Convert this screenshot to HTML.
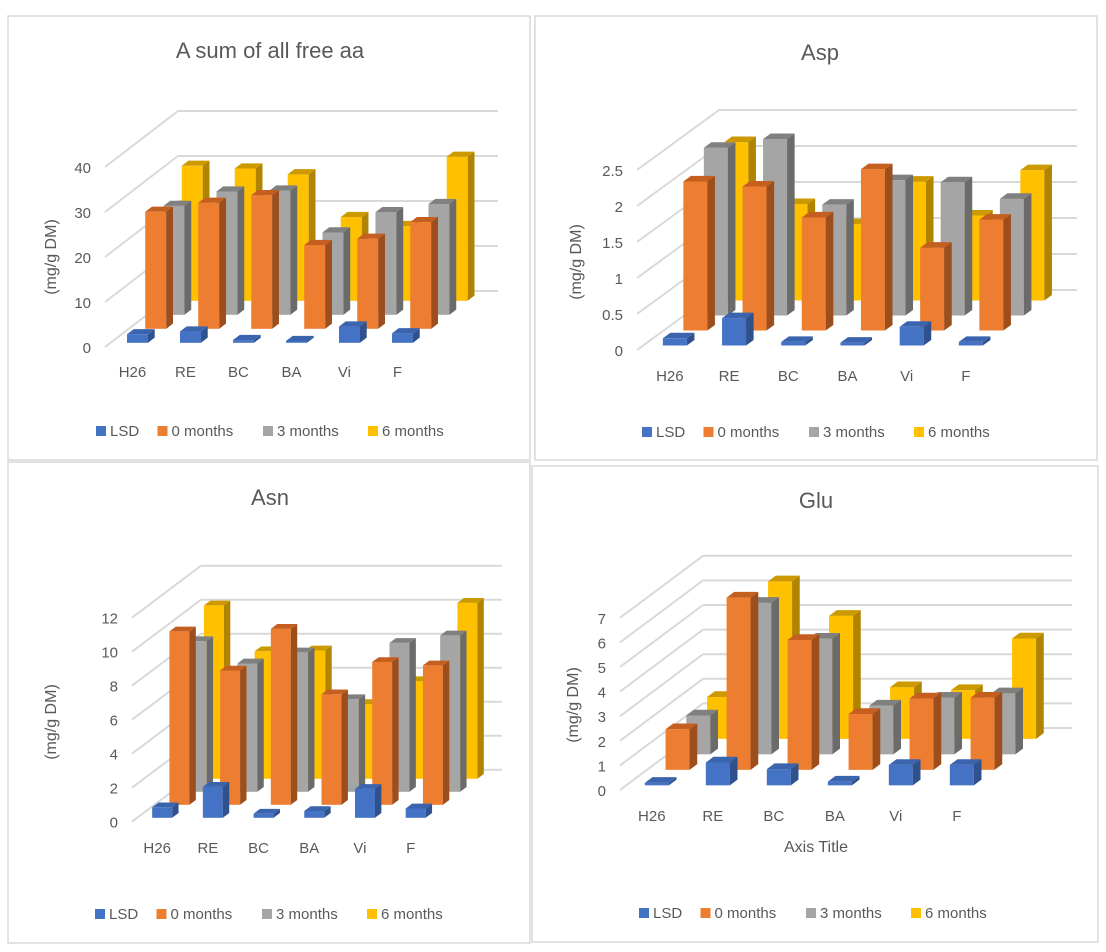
<!DOCTYPE html>
<html><head><meta charset="utf-8">
<style>
html,body{margin:0;padding:0;background:#fff;}
svg{display:block;font-family:"Liberation Sans",Arial,sans-serif;}
</style></head>
<body>
<svg id="chart" width="1106" height="952" viewBox="0 0 1106 952" xmlns="http://www.w3.org/2000/svg"></svg>
<script>
const categories = ["H26","RE","BC","BA","Vi","F"];
const seriesNames = ["LSD","0 months","3 months","6 months"];

const sumLSD = [1.9,2.5,0.6,0.4,3.6,2.1];
const sum0   = [26,28,29.7,18.6,20,23.7];
const sum3   = [24.2,27.4,27.6,18.3,22.8,24.6];
const sum6   = [30,29.4,28.1,18.6,16.6,32];
const sumTicks = ["0","10","20","30","40"];
const sumTickValues = [0,10,20,30,40];

const aspLSD = [0.1,0.38,0.05,0.04,0.26,0.05];
const asp0   = [2.07,2.0,1.57,2.24,1.15,1.54];
const asp3   = [2.33,2.45,1.54,1.88,1.85,1.62];
const asp6   = [2.2,1.34,1.06,1.65,1.18,1.81];
const aspTicks = ["0","0.5","1","1.5","2","2.5"];
const aspTickValues = [0,0.5,1,1.5,2,2.5];

const asnLSD = [0.62,1.82,0.24,0.4,1.7,0.55];
const asn0   = [10.2,7.9,10.35,6.5,8.4,8.2];
const asn3   = [8.86,7.55,8.2,5.45,8.76,9.2];
const asn6   = [10.2,7.5,7.55,4.4,5.74,10.35];
const asnTicks = ["0","2","4","6","8","10","12"];
const asnTickValues = [0,2,4,6,8,10,12];

const gluLSD = [0.1,0.93,0.66,0.15,0.83,0.83];
const glu0   = [1.65,7.0,5.28,2.27,2.9,2.93];
const glu3   = [1.58,6.16,4.7,1.98,2.3,2.48];
const glu6   = [1.7,6.4,5.0,2.1,1.98,4.08];
const gluTicks = ["0","1","2","3","4","5","6","7"];
const gluTickValues = [0,1,2,3,4,5,6,7];

const NS = "http://www.w3.org/2000/svg";
const svg = document.getElementById("chart");
const faces = [
  {front:"#4472C4", side:"#2F528F", top:"#3B64AE"},
  {front:"#ED7D31", side:"#9C4E1C", top:"#C55F20"},
  {front:"#A5A5A5", side:"#6B6B6B", top:"#808080"},
  {front:"#FFC000", side:"#B08400", top:"#CC9A00"}
];

function mk(tag, attrs, parent){
  const e = document.createElementNS(NS, tag);
  for (const k in attrs) e.setAttribute(k, attrs[k]);
  (parent||svg).appendChild(e);
  return e;
}

const panels = [
  {key:"sum", title:"A sum of all free aa", series:[sumLSD,sum0,sum3,sum6], ticks:sumTicks, tickValues:sumTickValues,
   box:[8,16,522,444], ox:105, oy:347, DX:73, DY:-56, k:4.5, sp:53, d0:16.5, w:21, right:498,
   titleX:270, titleY:58, axX:52, axY:257, catY:377, legX:96, legY:436, xTitle:null},
  {key:"asp", title:"Asp", series:[aspLSD,asp0,asp3,asp6], ticks:aspTicks, tickValues:aspTickValues,
   box:[535,16,562,444], ox:637, oy:350, DX:82, DY:-60, k:72, sp:59.2, d0:19.7, w:24, right:1077,
   titleX:820, titleY:60, axX:577, axY:262, catY:381, legX:642, legY:437, xTitle:null},
  {key:"asn", title:"Asn", series:[asnLSD,asn0,asn3,asn6], ticks:asnTicks, tickValues:asnTickValues,
   box:[8,462,522,481], ox:132, oy:821.7, DX:69, DY:-52, k:17, sp:50.7, d0:15, w:20, right:502,
   titleX:270, titleY:505, axX:52, axY:722, catY:853, legX:95, legY:919, xTitle:null},
  {key:"glu", title:"Glu", series:[gluLSD,glu0,glu3,glu6], ticks:gluTicks, tickValues:gluTickValues,
   box:[532,466,566,476], ox:620, oy:790, DX:83, DY:-62, k:24.6, sp:61, d0:18.6, w:24, right:1072,
   titleX:816, titleY:508, axX:574, axY:705, catY:821, legX:639, legY:918, xTitle:"Axis Title", xTitleY:852}
];

panels.forEach(p => {
  const g = mk("g", {});
  
  
  const b = mk("rect", {x:p.box[0], y:p.box[1], width:p.box[2], height:p.box[3], fill:"#fff", stroke:"#D9D9D9", "stroke-width":1.5}, g);
  
  

  const t = mk("text", {x:p.titleX, y:p.titleY, "text-anchor":"middle", "font-size":22, fill:"#595959"}, g);
  t.textContent = p.title;
  
  

  const ax = mk("text", {x:p.axX, y:p.axY, "text-anchor":"middle", "font-size":16, fill:"#595959",
    transform:`rotate(-90 ${p.axX} ${p.axY})`, "dominant-baseline":"middle"}, g);
  ax.textContent = "(mg/g DM)";
  
  

  // gridlines / walls
  p.tickValues.forEach((tv, i) => {
    const y = p.oy - tv * p.k;
    const l1 = mk("line", {x1:p.ox, y1:y, x2:p.ox+p.DX, y2:y+p.DY, stroke:"#D9D9D9", "stroke-width":2}, g);
    
    
    const l2 = mk("line", {x1:p.ox+p.DX, y1:y+p.DY, x2:p.right, y2:y+p.DY, stroke:"#D9D9D9", "stroke-width":2}, g);
    
    
    const tl = mk("text", {x:p.ox-14, y:y+6, "text-anchor":"end", "font-size":15, fill:"#595959"}, g);
    tl.textContent = p.ticks[i];
    
    
  });

  const sdx = p.DX/4, sdy = -p.DY/4;
  const sx = sdx*0.37, sy = sdy*0.37;
  for (let s = 3; s >= 0; s--) {
    const vals = p.series[s];
    const col = faces[s];
    categories.forEach((c, ci) => {
      const v = vals[ci];
      const bx = p.ox + p.d0 + ci*p.sp + (s+0.3)*sdx;
      const by = p.oy - (s+0.3)*sdy;
      const h = v * p.k;
      const bg = mk("g", {}, g);
      
      
      mk("rect", {x:bx, y:by-h, width:p.w, height:h, fill:col.front}, bg);
      mk("polygon", {points:`${bx+p.w},${by} ${bx+p.w},${by-h} ${bx+p.w+sx},${by-h-sy} ${bx+p.w+sx},${by-sy}`, fill:col.side}, bg);
      mk("polygon", {points:`${bx},${by-h} ${bx+p.w},${by-h} ${bx+p.w+sx},${by-h-sy} ${bx+sx},${by-h-sy}`, fill:col.top}, bg);
    });
  }

  categories.forEach((c, ci) => {
    const cx = p.ox + p.d0 + ci*p.sp + 0.3*sdx + p.w/2 - 5;
    const ct = mk("text", {x:cx, y:p.catY, "text-anchor":"middle", "font-size":15, fill:"#595959"}, g);
    ct.textContent = c;
    
    
  });

  if (p.xTitle) {
    const xt = mk("text", {x:p.titleX, y:p.xTitleY, "text-anchor":"middle", "font-size":16, fill:"#595959"}, g);
    xt.textContent = p.xTitle;
    
    
  }

  const offs = [0, 61.5, 167, 272];
  seriesNames.forEach((n, i) => {
    const lg = mk("g", {}, g);
    
    
    const lx = p.legX + offs[i];
    mk("rect", {x:lx, y:p.legY-10, width:10, height:10, fill:faces[i].front}, lg);
    const lt = mk("text", {x:lx+14, y:p.legY, "font-size":15, fill:"#595959"}, lg);
    lt.textContent = n;
  });
});
</script>
</body></html>
